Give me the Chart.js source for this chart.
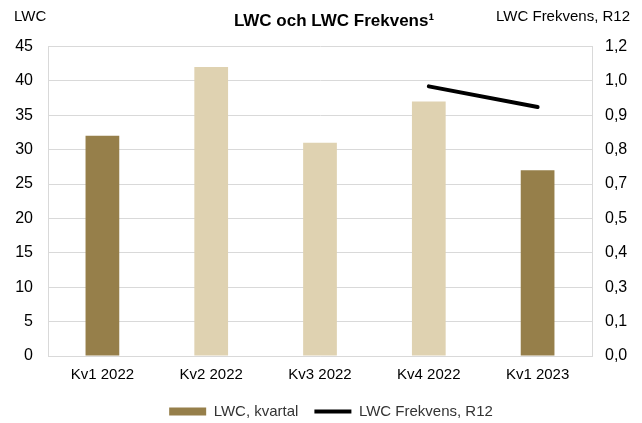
<!DOCTYPE html>
<html>
<head>
<meta charset="utf-8">
<script src="https://cdn.jsdelivr.net/npm/chart.js@4.4.0/dist/chart.umd.min.js"></script>
<style>
  html, body { margin: 0; padding: 0; background: #fff; }
  #wrap { width: 642px; height: 423px; }
</style>
</head>
<body>
<div id="wrap"><canvas id="myChart" width="642" height="423"></canvas></div>
<script>
// DATA
const categories = ["Kv1 2022", "Kv2 2022", "Kv3 2022", "Kv4 2022", "Kv1 2023"];
const lwcKvartal = [32, 42, 31, 37, 27];
const lwcFrekvens = [null, null, null, 1.045, 0.965];
const rightTickLabels = ["0,0", "0,1", "0,3", "0,4", "0,5", "0,7", "0,8", "0,9", "1,0", "1,2"];

const dark = "#967f4a";
const light = "#dfd2b1";
const gridColor = "#d9d9d9";
const font = "'Liberation Sans', Arial, sans-serif";

// axis titles in the top corners + nudge title/legend right like the original
const cornerTitles = {
  id: "cornerTitles",
  afterLayout(chart) {
    if (chart.titleBlock) chart.titleBlock.left += 26;
    if (chart.legend) chart.legend.left += 20;
  },
  afterDraw(chart) {
    const c = chart.ctx;
    c.save();
    c.font = "15px " + font;
    c.fillStyle = "#000";
    c.textBaseline = "middle";
    c.textAlign = "left";
    c.fillText("LWC", 14, 17);
    c.textAlign = "right";
    c.fillText("LWC Frekvens, R12", 630, 17);
    c.restore();
  },
};

const ctx = document.getElementById("myChart");
chart = new Chart(ctx, {
  type: "bar",
  data: {
    labels: categories,
    datasets: [
      {
        type: "bar",
        label: "LWC, kvartal",
        data: lwcKvartal,
        backgroundColor: (c) => (c.dataIndex === 0 || c.dataIndex === 4 ? dark : light),
        borderWidth: 0,
        categoryPercentage: 1,
        barPercentage: 0.31,
        yAxisID: "y",
        order: 2,
      },
      {
        type: "line",
        label: "LWC Frekvens, R12",
        data: lwcFrekvens,
        borderColor: "#000",
        backgroundColor: "#000",
        borderWidth: 4,
        borderCapStyle: "round",
        pointRadius: 0,
        yAxisID: "y1",
        order: 1,
      },
    ],
  },
  options: {
    responsive: false,
    animation: false,
    devicePixelRatio: 1,
    layout: { padding: { left: 0, right: 0, top: 0, bottom: -6 } },
    plugins: {
      title: {
        display: true,
        text: "LWC och LWC Frekvens\u00b9",
        color: "#000",
        font: { family: font, size: 17, weight: "bold" },
        padding: { top: 11, bottom: 15 },
      },
      legend: {
        position: "bottom",
        labels: {
          color: "#333",
          font: { family: font, size: 15 },
          usePointStyle: true,
          pointStyleWidth: 37,
          boxHeight: 8,
          padding: 16,
          generateLabels: function (chart) {
            const items = Chart.defaults.plugins.legend.labels.generateLabels(chart);
            items.sort((a, b) => a.datasetIndex - b.datasetIndex);
            items.forEach((it) => {
              if (it.datasetIndex === 0) {
                it.pointStyle = "rect";
                it.fillStyle = dark;
                it.strokeStyle = dark;
                it.lineWidth = 0;
              } else {
                it.pointStyle = "line";
                it.strokeStyle = "#000";
                it.lineWidth = 4;
              }
            });
            return items;
          },
        },
      },
      tooltip: { enabled: false },
    },
    scales: {
      x: {
        grid: { display: false, drawTicks: false },
        border: { color: gridColor },
        ticks: { color: "#000", font: { family: font, size: 15 }, padding: 10 },
        afterFit: function (scale) {
          scale.height = 32;
        },
      },
      y: {
        position: "left",
        min: 0,
        max: 45,
        ticks: { stepSize: 5, color: "#000", font: { family: font, size: 16 }, padding: 15 },
        grid: { color: gridColor, drawTicks: false },
        border: { color: gridColor },
        afterFit: function (scale) {
          scale.width = 48;
        },
      },
      y1: {
        position: "right",
        min: 0,
        max: 1.2,
        ticks: {
          count: 10,
          color: "#000",
          font: { family: font, size: 16 },
          padding: 13,
          callback: function (value, index) {
            return rightTickLabels[index];
          },
        },
        grid: { display: false, drawTicks: false },
        border: { color: gridColor },
        afterFit: function (scale) {
          scale.width = 50;
        },
      },
    },
  },
  plugins: [cornerTitles],
});
</script>
</body>
</html>
